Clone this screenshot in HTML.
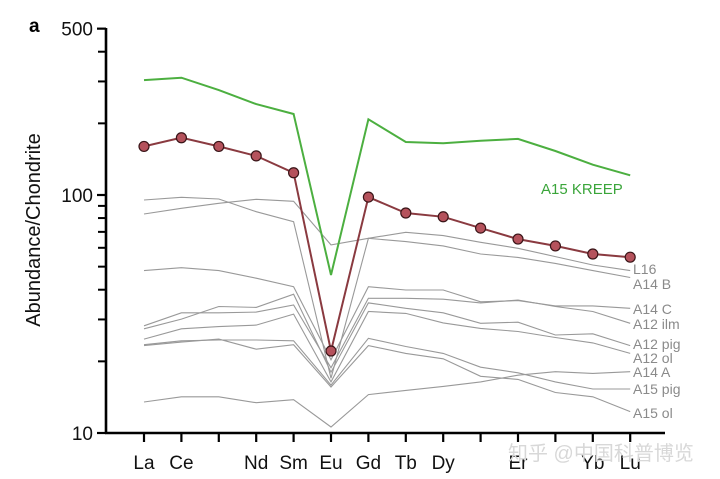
<!DOCTYPE html>
<html><head><meta charset="utf-8"><style>
html,body{margin:0;padding:0;background:#fff;}
svg{display:block;font-family:"Liberation Sans","Noto Sans CJK SC",sans-serif;}
</style></head><body>
<svg id="chart" width="720" height="479" viewBox="0 0 720 479">
<text x="29" y="32" font-size="19" font-weight="bold">a</text>
<text transform="translate(40,230) rotate(-90)" text-anchor="middle" font-size="20" fill="#111">Abundance/Chondrite</text>
<g id="axes"></g>
<g id="series"></g>
<text x="541" y="194" font-size="15" fill="#3aa53a">A15 KREEP</text>
<text x="508" y="460" font-size="20" fill="#d8d8d8">知乎 @中国科普博览</text>
</svg>
<script>
const elements = ["La","Ce","Pr","Nd","Sm","Eu","Gd","Tb","Dy","Ho","Er","Tm","Yb","Lu"];
const xLabels = ["La","Ce","","Nd","Sm","Eu","Gd","Tb","Dy","","Er","","Yb","Lu"];
const yMajorTicks = [10,100,500];
const yMinorTicks = [20,30,40,50,60,70,80,90,200,300,400];
const kreep = [304,311,276,241,219,46.1,208,167,165,169,172,153,134,121];
const sample = [160,174,160,146,124,22.1,98,84,81,72.6,65.3,61.1,56.5,54.8];
const grayNames = ["L16","A14 B","A14 C","A12 ilm","A12 pig","A12 ol","A14 A","A15 pig","A15 ol"];
const l16 = [83.2,87.9,92.3,95.9,94.1,61.7,65.8,69.7,67.5,63.3,59.7,55.1,50.8,48.1];
const a14b = [95.3,97.8,96.2,85.1,77.2,17.0,65.8,63.7,61.1,56.5,54.7,51.6,48.1,45.0];
const a14c = [48.1,49.5,48.1,44.7,41.2,20.3,41.2,39.9,39.9,35.6,36.0,34.2,34.2,33.4];
const a12ilm = [28.2,32.0,32.0,32.2,34.5,18.8,36.8,36.8,36.5,35.2,36.2,34.0,32.4,28.9];
const a12pig = [27.4,30.1,34.0,33.7,38.3,18.0,35.2,33.4,32.0,28.9,29.2,25.8,26.1,23.3];
const a12ol = [24.8,27.4,28.0,28.4,31.6,16.4,32.4,31.8,29.0,27.5,26.7,25.2,23.9,21.6];
const a14a = [13.5,14.2,14.2,13.4,13.8,10.6,14.5,15.1,15.7,16.4,17.5,18.1,17.8,18.1];
const a15pig = [23.5,24.4,24.6,24.6,24.4,15.9,25.0,23.1,21.6,18.9,17.9,16.4,15.3,15.3];
const a15ol = [23.3,24.1,24.8,22.5,23.5,15.6,23.3,21.6,20.5,17.3,16.8,14.8,14.2,12.3];
const grayLabelY = [269,284,309,324,344,358,372,389,413];

const NS="http://www.w3.org/2000/svg";
const X0=144, DX=37.4, Y10=433, DEC=238;
function xs(i){return X0+i*DX;}
function ys(v){return Y10-DEC*Math.log10(v/10);}
function mk(tag,attrs,parent){const e=document.createElementNS(NS,tag);for(const k in attrs)e.setAttribute(k,attrs[k]);parent.appendChild(e);return e;}
const axes=document.getElementById('axes'), series=document.getElementById('series');

let e=mk('line',{x1:106,y1:28,x2:106,y2:434,stroke:'#000','stroke-width':2.6},axes);


e=mk('line',{x1:105,y1:433,x2:665,y2:433,stroke:'#000','stroke-width':2.6},axes);


yMajorTicks.forEach(v=>{
  const t=mk('line',{x1:97,y1:ys(v),x2:106,y2:ys(v),stroke:'#000','stroke-width':2.2},axes);
  
  
  const l=mk('text',{x:93,y:ys(v)+7,'text-anchor':'end','font-size':19,fill:'#111'},axes);
  l.textContent=String(v);
  
  
});
yMinorTicks.forEach(v=>{
  const t=mk('line',{x1:98,y1:ys(v),x2:106,y2:ys(v),stroke:'#000','stroke-width':2},axes);
  
  
});
elements.forEach((el,i)=>{
  const t=mk('line',{x1:xs(i),y1:433,x2:xs(i),y2:442,stroke:'#000','stroke-width':2.2},axes);
  
  
  if(xLabels[i]){
    const l=mk('text',{x:xs(i),y:469,'text-anchor':'middle','font-size':19,fill:'#111'},axes);
    l.textContent=xLabels[i];
    
    
  }
});
function pts(arr){return arr.map((v,i)=>xs(i).toFixed(1)+','+ys(v).toFixed(1)).join(' ');}
const grays=[l16,a14b,a14c,a12ilm,a12pig,a12ol,a14a,a15pig,a15ol];
grays.forEach((arr,k)=>{
  const p=mk('polyline',{points:pts(arr),fill:'none',stroke:'#999','stroke-width':1.1},series);
  
  
  const l=mk('text',{x:633,y:grayLabelY[k]+5,'font-size':14,fill:'#8a8a8a'},series);
  l.textContent=grayNames[k];
  
  
});
e=mk('polyline',{points:pts(kreep),fill:'none',stroke:'#4caf40','stroke-width':2},series);


e=mk('polyline',{points:pts(sample),fill:'none',stroke:'#8a3a40','stroke-width':2},series);


sample.forEach((v,i)=>{
  const c=mk('circle',{cx:xs(i),cy:ys(v),r:5,fill:'#b5525c',stroke:'#3a1518','stroke-width':1.2},series);
  
  
});
</script>
</body></html>
